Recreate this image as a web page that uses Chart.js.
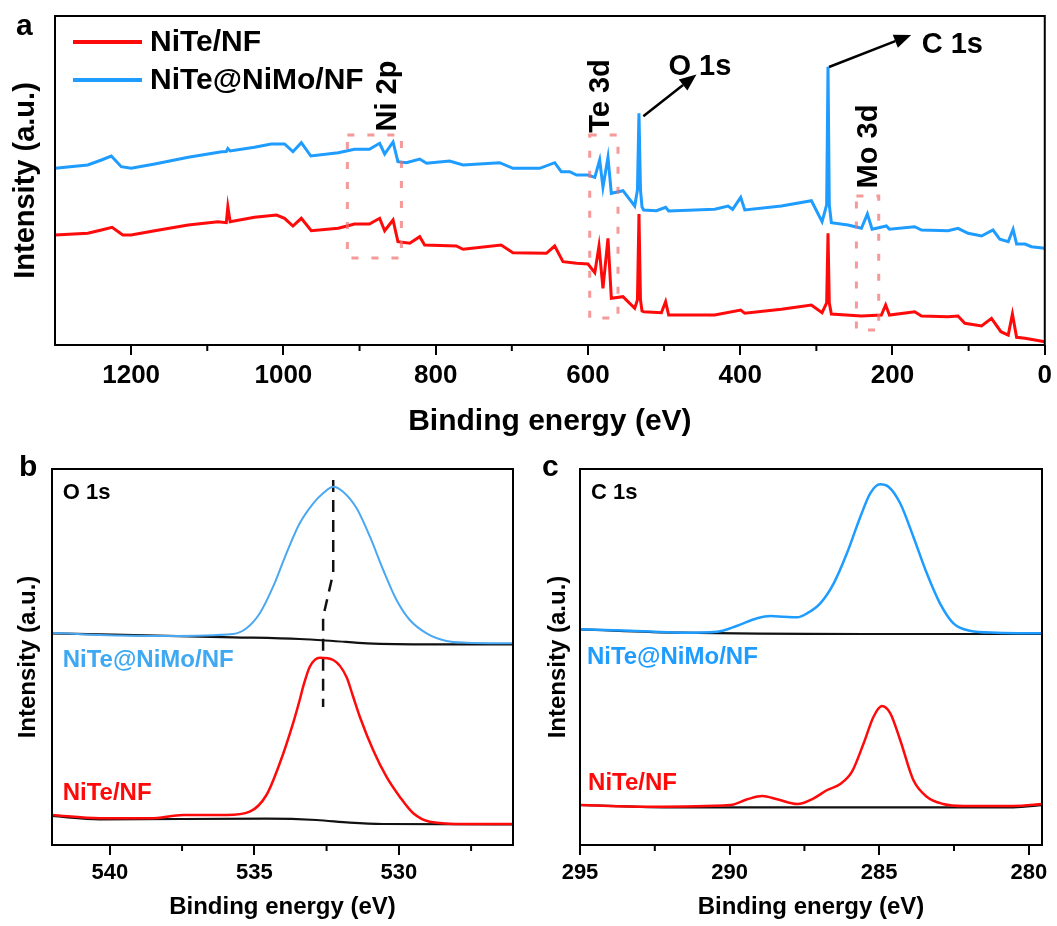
<!DOCTYPE html>
<html>
<head>
<meta charset="utf-8">
<script src="https://cdn.jsdelivr.net/npm/chart.js@4.4.1/dist/chart.umd.min.js"></script>
<style>
  html, body { margin: 0; padding: 0; background: #fff; }
  #wrap { position: relative; width: 1057px; height: 926px; overflow: hidden; }
  #wrap canvas { position: absolute; }
</style>
</head>
<body>
<div id="wrap">
  <canvas id="surveyChart" width="1057" height="455" style="left:0px;top:0px"></canvas>
  <canvas id="o1sChart" width="530" height="471" style="left:0px;top:455px"></canvas>
  <canvas id="c1sChart" width="527" height="471" style="left:530px;top:455px"></canvas>
</div>
<script>
// (a) survey spectra: binding energy (eV) and intensity (a.u.)
var surveyNiTeBE = [1300,1257,1239,1225,1211,1200,1169,1125,1086,1075,1073,1070,1038,1009,998.5,987.5,976.5,963.4,928,906.5,887,873.6,867,856,849.6,834,821,814.5,773,764,714,698.5,654.6,643.7,632.8,615,600,591,585.5,580.3,573.7,569.3,554,538.6,535,533,531,529,526.8,503.6,498,494,433.5,399.4,394,346,306.5,292.5,286.5,284.7,283,280.3,240.8,214.6,209,204,170.8,162,127,114,105,83,70,57.6,48,42.5,37,26,13,0];
var surveyNiTeInt = [110,111.7,115,117.7,110,110,114.3,120,123.3,122.3,138.3,123.3,127.7,130,126.7,119,126.7,114.3,116.7,121,121,126.7,114.3,125,103.3,101.7,108.3,100,99,95.7,100,92.3,91.7,99,83.3,81.7,81,72.3,99,56.7,106.7,46.7,48.3,36.7,45,131,45,34,33.3,32.3,43.3,30,30,35,31.7,35.7,40,32.3,42,111.7,42,31,29,30,40,30,33.3,29,28.3,29,21.7,19,26.7,13.3,10,31,7.7,6.7,5,3.3];
var surveyNiMoBE = [1300,1257,1239,1226,1213,1200,1169,1125,1081,1075,1073,1070,1038,1016,998.5,987.5,976.5,964,928,906.5,887,873.6,867,856,849.6,838.5,821,812,781.7,764,716,698.5,663.4,643.7,635,624,615,600,591,584.6,580.3,573.7,569.3,554,538.6,535,533,531,529,526.8,510,498,494,433.5,416,410,399.4,394,346,306.5,292.5,286.5,284.7,283,280.3,258.4,240.8,233,226.8,208,204,170.8,162,127,114,100.7,83,68,59,48,41.6,37,26,17.5,0];
var surveyNiMoInt = [176.7,180,185,189,178.3,176.7,181,187.7,193.3,193.5,196.5,194,197.7,201,201,193.3,202.3,189,192.3,195.7,195.7,201.7,191,203,183.3,182.3,186,181.7,184,180,182.3,176.7,176.7,182.3,173.3,173.3,170,170,167.7,185,157.7,187.7,151.7,154.3,139,155,231.7,155,138,135,134.3,137.7,134,135.7,139,135.7,147.7,135,139,144.3,123.3,140,278.3,140,122.3,120,116.7,131,115.7,119,115.7,118.3,115,114.3,116.7,111.7,109,115,105.7,103.3,115.7,101,101,98.3,96.7];
var surveyTicks = [1200, 1000, 800, 600, 400, 200, 0];
var surveyMinorTicks = [1100, 900, 700, 500, 300, 100];

// (b) O 1s
var o1sNiMoBE = [542,540.35,538.04,535.73,535.27,534.81,534.35,533.89,533.43,532.96,532.62,532.27,531.93,531.46,531.0,530.54,530.08,529.62,529.04,528.35,527.66,526];
var o1sNiMoInt = [212.3,210,209,211,216.7,231.7,258.3,291.7,321.7,341.7,351.7,358.3,353.3,336.7,308.3,275,245,225,211.7,204,202.3,201.7];
var o1sNiMoBgBE = [542,535.73,533.43,532.27,531.1,528.8,526];
var o1sNiMoBgInt = [211.7,207.7,206,204,201.7,200.7,200.7];
var o1sNiTeBE = [542,540.35,538.6,537.46,535.96,535.16,534.58,534.12,533.66,533.43,533.31,533.08,532.73,532.27,531.81,531.6,531.35,530.89,530.43,529.97,529.5,528.93,527.66,526];
var o1sNiTeInt = [30,26.7,26.7,30,30,33.3,50,81.7,121.7,145,158.3,178.3,187.3,185,168,150,128.3,95,68.3,48.3,31.7,23.3,21,21];
var o1sNiTeBgBE = [542,540.35,534.58,532.85,531.7,530.54,526];
var o1sNiTeBgInt = [29,25.7,26.3,25,22.3,21,20.7];
var o1sShiftBE = [532.27,532.27,532.62,532.62];
var o1sShiftInt = [365,272,228,138];
var o1sTicks = [540, 535, 530];
var o1sMinorTicks = [537.5, 532.5, 527.5];

// (c) C 1s
var c1sNiMoBE = [295,293.3,291.63,290.41,289.74,289.08,288.63,288.19,287.74,287.41,286.97,286.52,286.08,285.63,285.3,284.97,284.69,284.3,283.86,283.41,282.97,282.52,281.97,281.08,279.5];
var c1sNiMoInt = [215.7,214.3,212.3,213.3,219.3,226.7,229,228.3,227.7,231.7,241.7,261.7,291.7,328.3,351.7,360.7,358.3,341.7,308.3,271.7,241.7,221.7,214.3,212.3,211.7];
var c1sNiMoBgBE = [295,291.63,285.52,279.5];
var c1sNiMoBgInt = [215.7,212.3,211,211];
var c1sNiTeBE = [295,292.74,289.97,289.41,288.91,288.41,287.74,287.19,286.74,286.3,285.91,285.52,285.19,284.91,284.63,284.3,283.86,283.41,282.86,282.19,280.52,279.5];
var c1sNiTeInt = [40,38.3,40,45.7,49,45.7,41,46.7,55,61,73.3,101.7,128.3,139,131.7,105,65,48.3,41,39,39,41];
var c1sNiTeBgBE = [295,292.2,280.52,279.5];
var c1sNiTeBgInt = [40,37.7,37.7,40];
var c1sTicks = [295, 290, 285, 280];
var c1sMinorTicks = [292.5, 287.5, 282.5];

var FONT = "'Liberation Sans', Arial, Helvetica, sans-serif";
var RED = '#ff0a0a';
var BLUE = '#1e9cff';

function pts(xs, ys) {
  return xs.map(function(x, i) { return { x: x, y: ys[i] }; });
}

function line(label, xs, ys, color, width, opts) {
  opts = opts || {};
  return {
    label: label,
    data: pts(xs, ys),
    borderColor: color,
    backgroundColor: color,
    borderWidth: width,
    borderDash: opts.dash || [],
    cubicInterpolationMode: opts.smooth ? 'monotone' : 'default',
    pointRadius: 0,
    tension: 0,
    fill: false
  };
}

// boxes, arrows, labels, frame and minor ticks
var decoPlugin = {
  id: 'deco',
  afterDatasetsDraw: function(chart, args, opts) {
    var ctx = chart.ctx, area = chart.chartArea;
    var xs = chart.scales.x, ys = chart.scales.y;
    ctx.save();

    (opts.boxes || []).forEach(function(b) {
      var x1 = xs.getPixelForValue(b[0]), x2 = xs.getPixelForValue(b[1]);
      var y1 = ys.getPixelForValue(b[2]), y2 = ys.getPixelForValue(b[3]);
      ctx.setLineDash([7, 13]);
      ctx.lineWidth = 3;
      ctx.strokeStyle = 'rgba(242,110,110,0.7)';
      ctx.strokeRect(Math.min(x1, x2), Math.min(y1, y2), Math.abs(x2 - x1), Math.abs(y2 - y1));
    });
    ctx.setLineDash([]);

    (opts.arrows || []).forEach(function(a) {
      var x1 = xs.getPixelForValue(a[0]), y1 = ys.getPixelForValue(a[1]);
      var x2 = xs.getPixelForValue(a[2]), y2 = ys.getPixelForValue(a[3]);
      var ang = Math.atan2(y2 - y1, x2 - x1), len = 17, hw = 7;
      var bx = x2 - len * Math.cos(ang), by = y2 - len * Math.sin(ang);
      ctx.strokeStyle = '#000';
      ctx.fillStyle = '#000';
      ctx.lineWidth = 2.5;
      ctx.beginPath();
      ctx.moveTo(x1, y1);
      ctx.lineTo(bx, by);
      ctx.stroke();
      ctx.beginPath();
      ctx.moveTo(x2, y2);
      ctx.lineTo(bx + hw * Math.sin(ang), by - hw * Math.cos(ang));
      ctx.lineTo(bx - hw * Math.sin(ang), by + hw * Math.cos(ang));
      ctx.closePath();
      ctx.fill();
    });

    (opts.texts || []).forEach(function(t) {
      ctx.save();
      ctx.font = 'bold ' + t.size + 'px ' + FONT;
      ctx.fillStyle = t.color || '#000';
      ctx.textAlign = t.align || 'center';
      ctx.textBaseline = 'middle';
      ctx.translate(xs.getPixelForValue(t.x), ys.getPixelForValue(t.y));
      if (t.rotate) ctx.rotate(-Math.PI / 2);
      ctx.fillText(t.text, 0, 0);
      ctx.restore();
    });

    if (opts.legend) {
      var lg = opts.legend;
      lg.items.forEach(function(idx, i) {
        var ds = chart.data.datasets[idx];
        var y = area.top + lg.y + i * lg.gap;
        ctx.strokeStyle = ds.borderColor;
        ctx.lineWidth = 4;
        ctx.beginPath();
        ctx.moveTo(area.left + lg.x, y);
        ctx.lineTo(area.left + lg.x + lg.len, y);
        ctx.stroke();
        ctx.font = 'bold ' + lg.size + 'px ' + FONT;
        ctx.fillStyle = '#000';
        ctx.textAlign = 'left';
        ctx.textBaseline = 'middle';
        ctx.fillText(ds.label, area.left + lg.x + lg.len + 8, y + 1);
      });
    }

    ctx.strokeStyle = '#000';
    ctx.lineWidth = 2;
    ctx.strokeRect(area.left, area.top, area.right - area.left, area.bottom - area.top);
    (opts.minor || []).forEach(function(v) {
      var px = xs.getPixelForValue(v);
      ctx.beginPath();
      ctx.moveTo(px, area.bottom);
      ctx.lineTo(px, area.bottom + 6);
      ctx.stroke();
    });

    if (opts.panel) {
      ctx.font = 'bold ' + opts.panel.size + 'px ' + FONT;
      ctx.fillStyle = '#000';
      ctx.textAlign = 'left';
      ctx.textBaseline = 'alphabetic';
      ctx.fillText(opts.panel.text, opts.panel.x, opts.panel.y);
    }
    ctx.restore();
  }
};

function makeChart(id, cfg) {
  return new Chart(document.getElementById(id), {
    type: 'line',
    data: { datasets: cfg.datasets },
    options: {
      responsive: false,
      animation: false,
      devicePixelRatio: 1,
      layout: { padding: cfg.padding },
      plugins: { legend: { display: false }, tooltip: { enabled: false }, deco: cfg.deco },
      scales: {
        x: {
          type: 'linear',
          reverse: true,
          min: cfg.xMin,
          max: cfg.xMax,
          afterBuildTicks: function(scale) {
            scale.ticks = cfg.ticks.map(function(v) { return { value: v }; });
          },
          afterFit: function(scale) { scale.height = cfg.xHeight; },
          ticks: {
            autoSkip: false,
            maxRotation: 0,
            padding: cfg.tickPad,
            color: '#000',
            font: { family: FONT, size: cfg.tickSize, weight: 'bold' },
            callback: function(v) { return String(v); }
          },
          grid: { drawOnChartArea: false, drawTicks: true, tickLength: 10, color: '#000', lineWidth: 2 },
          border: { display: false },
          title: {
            display: true,
            text: 'Binding energy (eV)',
            color: '#000',
            padding: { top: 0, bottom: 0 },
            font: { family: FONT, size: cfg.titleSize, weight: 'bold' }
          }
        },
        y: {
          type: 'linear',
          min: cfg.yMin,
          max: cfg.yMax,
          afterFit: function(scale) { scale.width = cfg.yWidth; },
          ticks: { display: false },
          grid: { display: false },
          border: { display: false },
          title: {
            display: true,
            text: 'Intensity (a.u.)',
            color: '#000',
            padding: { top: cfg.yTitlePad, bottom: 0 },
            font: { family: FONT, size: cfg.yTitleSize, weight: 'bold' }
          }
        }
      }
    },
    plugins: [decoPlugin]
  });
}

makeChart('surveyChart', {
  datasets: [
    line('NiTe/NF', surveyNiTeBE, surveyNiTeInt, RED, 3),
    line('NiTe@NiMo/NF', surveyNiMoBE, surveyNiMoInt, BLUE, 3)
  ],
  padding: { left: 0, right: 12, top: 16, bottom: 15 },
  xMin: 0, xMax: 1300, yMin: 0, yMax: 329,
  ticks: surveyTicks, xHeight: 95, yWidth: 55,
  tickPad: 5, tickSize: 26, titleSize: 30, yTitleSize: 29, yTitlePad: 9,
  deco: {
    boxes: [[916, 845, 87, 210], [597.7, 560.5, 27, 210], [247.4, 218.1, 15, 149]],
    arrows: [[527.3, 228.7, 457.5, 270.5], [283.4, 278, 175.5, 310]],
    texts: [
      { text: 'Ni 2p', x: 863, y: 249, size: 29, rotate: true },
      { text: 'Te 3d', x: 583.3, y: 249, size: 29, rotate: true },
      { text: 'Mo 3d', x: 231.2, y: 198.5, size: 29, rotate: true },
      { text: 'O 1s', x: 453, y: 278.5, size: 29 },
      { text: 'C 1s', x: 121.5, y: 300.5, size: 29 }
    ],
    legend: { items: [0, 1], x: 18, y: 26, gap: 38, len: 69, size: 30 },
    minor: surveyMinorTicks,
    panel: { text: 'a', x: 16, y: 35, size: 30 }
  }
});

makeChart('o1sChart', {
  datasets: [
    line('NiTe@NiMo/NF', o1sNiMoBE, o1sNiMoInt, '#4aa8f2', 2, { smooth: true }),
    line('NiTe@NiMo/NF background', o1sNiMoBgBE, o1sNiMoBgInt, '#111', 2.2, { smooth: true }),
    line('NiTe/NF', o1sNiTeBE, o1sNiTeInt, RED, 2.5, { smooth: true }),
    line('NiTe/NF background', o1sNiTeBgBE, o1sNiTeBgInt, '#111', 2.2, { smooth: true }),
    line('peak shift', o1sShiftBE, o1sShiftInt, '#111', 2.5, { dash: [12, 8] })
  ],
  padding: { left: 0, right: 17, top: 14, bottom: 4 },
  xMin: 526.05, xMax: 542, yMin: 0, yMax: 376,
  ticks: o1sTicks, xHeight: 77, yWidth: 52,
  tickPad: 5, tickSize: 22, titleSize: 24, yTitleSize: 24, yTitlePad: 14,
  deco: {
    texts: [
      { text: 'O 1s', x: 541.63, y: 352, size: 22, align: 'left' },
      { text: 'NiTe@NiMo/NF', x: 541.63, y: 185, size: 24, align: 'left', color: '#3ea8f2' },
      { text: 'NiTe/NF', x: 541.63, y: 52, size: 24, align: 'left', color: RED }
    ],
    minor: o1sMinorTicks,
    panel: { text: 'b', x: 19, y: 21, size: 30 }
  }
});

makeChart('c1sChart', {
  datasets: [
    line('NiTe@NiMo/NF', c1sNiMoBE, c1sNiMoInt, BLUE, 2.5, { smooth: true }),
    line('NiTe@NiMo/NF background', c1sNiMoBgBE, c1sNiMoBgInt, '#111', 2.2, { smooth: true }),
    line('NiTe/NF', c1sNiTeBE, c1sNiTeInt, RED, 2.5, { smooth: true }),
    line('NiTe/NF background', c1sNiTeBgBE, c1sNiTeBgInt, '#111', 2.2, { smooth: true })
  ],
  padding: { left: 0, right: 15, top: 14, bottom: 4 },
  xMin: 279.56, xMax: 295, yMin: 0, yMax: 376,
  ticks: c1sTicks, xHeight: 77, yWidth: 50,
  tickPad: 5, tickSize: 22, titleSize: 24, yTitleSize: 24, yTitlePad: 14,
  deco: {
    texts: [
      { text: 'C 1s', x: 294.63, y: 352, size: 22, align: 'left' },
      { text: 'NiTe@NiMo/NF', x: 294.77, y: 188, size: 24, align: 'left', color: BLUE },
      { text: 'NiTe/NF', x: 294.73, y: 62, size: 24, align: 'left', color: RED }
    ],
    minor: c1sMinorTicks,
    panel: { text: 'c', x: 12, y: 21, size: 30 }
  }
});
</script>
</body>
</html>
